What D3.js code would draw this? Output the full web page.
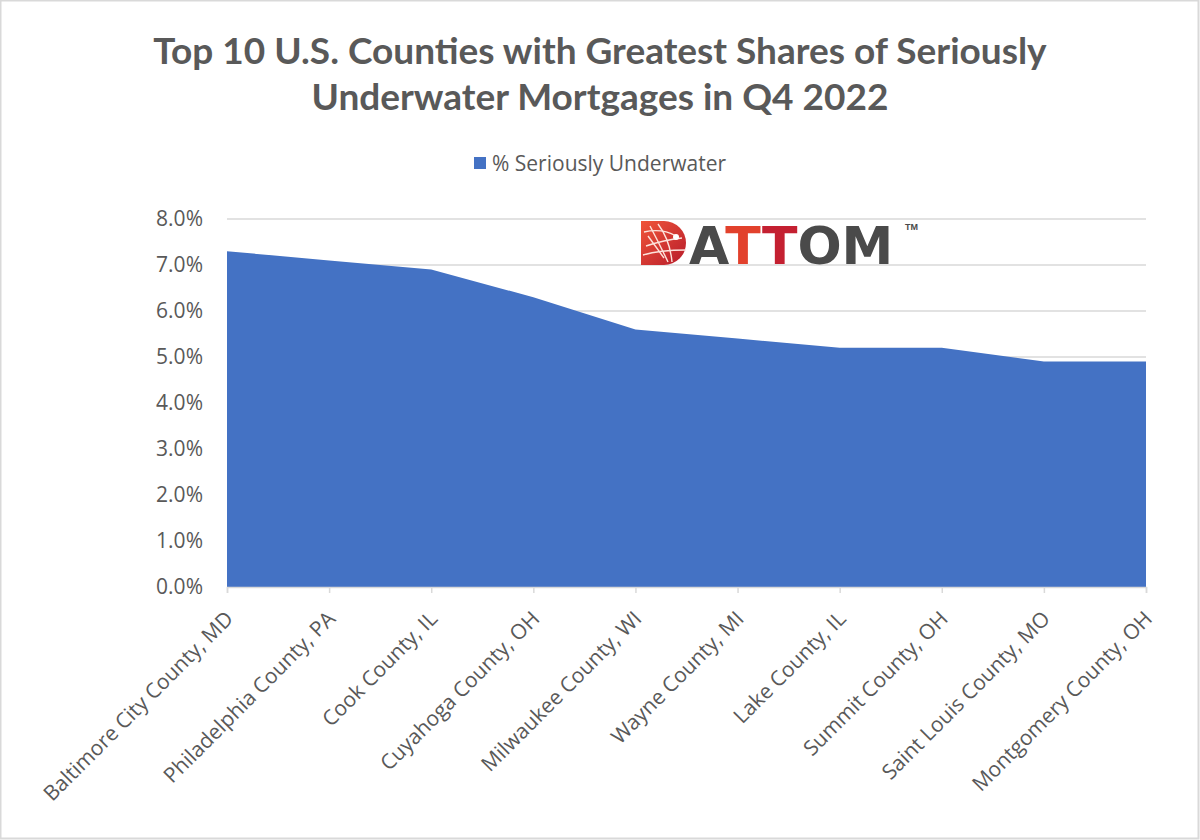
<!DOCTYPE html>
<html>
<head>
<meta charset="utf-8">
<script src="https://cdn.jsdelivr.net/npm/d3@7"></script>
<style>
  html, body { margin: 0; padding: 0; background: #ffffff; }
  svg { display: block; }
</style>
</head>
<body>
<svg id="chart" width="1200" height="840"></svg>
<script>
// ---- Data ----
const titleLines = ["Top 10 U.S. Counties with Greatest Shares of Seriously", "Underwater Mortgages in Q4 2022"];
const seriesName = "% Seriously Underwater";
const counties = [
  "Baltimore City County, MD",
  "Philadelphia County, PA",
  "Cook County, IL",
  "Cuyahoga County, OH",
  "Milwaukee County, WI",
  "Wayne County, MI",
  "Lake County, IL",
  "Summit County, OH",
  "Saint Louis County, MO",
  "Montgomery County, OH"
];
const shares = [7.3, 7.1, 6.9, 6.3, 5.6, 5.4, 5.2, 5.2, 4.9, 4.9];
const yTicks = [0, 1, 2, 3, 4, 5, 6, 7, 8];

// ---- Layout ----
const W = 1200, H = 840;
const plot = { left: 227, right: 1146, top: 219, bottom: 587 };
const textColor = "#595959";
const fillColor = "#4472c4";
const gridColor = "#d9d9d9";
const font = "'Open Sans', 'Noto Sans', sans-serif";

const svg = d3.select("#chart");

// outer border
svg.append("rect").attr("x", 0.5).attr("y", 0.5).attr("width", W - 2).attr("height", H - 2)
  .attr("fill", "#fff").attr("stroke", gridColor).attr("stroke-width", 2);

// scales
const x = d3.scalePoint().domain(counties).range([plot.left, plot.right]);
const y = d3.scaleLinear().domain([0, 8]).range([plot.bottom, plot.top]);

// gridlines
svg.append("g").selectAll("line").data(yTicks.filter(d => d > 0)).join("line")
  .attr("x1", plot.left).attr("x2", plot.right)
  .attr("y1", d => y(d)).attr("y2", d => y(d))
  .attr("stroke", gridColor).attr("stroke-width", 1.5);

// area
const area = d3.area()
  .x((d, i) => x(counties[i]))
  .y0(y(0))
  .y1(d => y(d))
  .curve(d3.curveLinear);
svg.append("path").datum(shares).attr("d", area).attr("fill", fillColor);

// y axis
const yAxis = d3.axisLeft(y).tickValues(yTicks).tickSize(0).tickPadding(0)
  .tickFormat(d => d3.format(".1f")(d) + "%");
const yg = svg.append("g").attr("transform", `translate(${plot.left - 24},0)`).call(yAxis);
yg.select(".domain").remove();
yg.selectAll("text").attr("fill", textColor).style("font-family", font).style("font-size", "21px");

// x axis
const xAxis = d3.axisBottom(x).tickSize(6).tickPadding(0);
const xg = svg.append("g").attr("transform", `translate(0,${plot.bottom})`).call(xAxis);
xg.select(".domain").attr("stroke", gridColor).attr("stroke-width", 1.5);
xg.selectAll(".tick line").attr("stroke", gridColor).attr("stroke-width", 1.5);
xg.selectAll(".tick text")
  .attr("fill", textColor).style("font-family", font).style("font-size", "21px")
  .attr("text-anchor", "end")
  .attr("dy", null).attr("y", 0)
  .attr("transform", "translate(7,33) rotate(-45)");

// title
const tg = svg.append("g");
tg.selectAll("text").data(titleLines).join("text")
  .attr("x", 600).attr("y", (d, i) => 64 + i * 46)
  .attr("text-anchor", "middle")
  .attr("fill", textColor)
  .style("font-family", "Lato, 'Open Sans', sans-serif")
  .style("font-weight", "bold")
  .style("font-size", "37px")
  .text(d => d);

// legend
svg.append("rect").attr("x", 474).attr("y", 157).attr("width", 12).attr("height", 12).attr("fill", fillColor);
svg.append("text").attr("x", 492).attr("y", 171).attr("fill", textColor)
  .style("font-family", font).style("font-size", "21px").text(seriesName);

// ATTOM logo
const logo = svg.append("g");
const defs = svg.append("defs");
const grad = defs.append("linearGradient").attr("id", "lg").attr("x1", 0).attr("y1", 0).attr("x2", 1).attr("y2", 1);
grad.append("stop").attr("offset", "0%").attr("stop-color", "#f0553a");
grad.append("stop").attr("offset", "100%").attr("stop-color", "#b71c2b");
logo.append("path")
  .attr("d", "M641,221 L664,221 A22,22 0 0 1 664,265 L641,265 Z")
  .attr("fill", "url(#lg)");
const net = [
  "M644,232 Q662,228 676,236", "M646,246 Q664,240 682,238", "M650,226 Q660,245 668,262",
  "M658,224 Q670,240 672,262", "M643,255 Q660,250 686,250", "M648,236 L664,258"
];
logo.selectAll("path.net").data(net).join("path").attr("class", "net")
  .attr("d", d => d).attr("fill", "none").attr("stroke", "#fde3dc").attr("stroke-width", 1.4);
logo.append("circle").attr("cx", 676).attr("cy", 237).attr("r", 3).attr("fill", "#fff");
const letters = [
  { t: "A", c: "#4a4a4a" }, { t: "T", c: "#e2412c" }, { t: "T", c: "#c42031" },
  { t: "O", c: "#4a4a4a" }, { t: "M", c: "#4a4a4a" }
];
const lt = logo.append("text").attr("x", 689).attr("y", 264)
  .style("font-family", "'DejaVu Sans', sans-serif").style("font-weight", "bold")
  .style("font-size", "52px");
lt.selectAll("tspan").data(letters).join("tspan").attr("fill", d => d.c).text(d => d.t);
logo.append("text").attr("x", 905).attr("y", 230).attr("fill", "#4a4a4a")
  .style("font-family", "'Liberation Sans', Arial, sans-serif").style("font-weight", "bold")
  .style("font-size", "9px").text("TM");
</script>
</body>
</html>
